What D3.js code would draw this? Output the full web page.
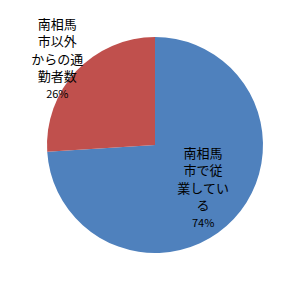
<!DOCTYPE html>
<html>
<head>
<meta charset="utf-8">
<script src="https://cdn.jsdelivr.net/npm/d3@7"></script>
<style>
  body { margin: 0; background: #fff; }
  text { font-family: "Noto Sans CJK JP", sans-serif; fill: #000; }
</style>
</head>
<body>
<div id="chart"></div>
<script>
const width = 301;
const height = 290;

// data
const categories = ["南相馬市で従業している", "南相馬市以外からの通勤者数"];
const labelLines = [["南相馬", "市で従", "業してい", "る"], ["南相馬", "市以外", "からの通", "勤者数"]];
const values = [74, 26];
const colors = ["#4F81BD", "#C0504D"];

const cx = 155, cy = 145, radius = 108;
const labelRadius = [66, 134];
const labelShiftY = [-2, 6];

const svg = d3.select("#chart").append("svg")
    .attr("width", width)
    .attr("height", height);

const pie = d3.pie().sort(null).value(d => d)(values);
const arc = d3.arc().innerRadius(0).outerRadius(radius);

const g = svg.append("g").attr("transform", "translate(" + cx + "," + cy + ")");

g.selectAll("path")
  .data(pie)
  .join("path")
    .attr("d", arc)
    .attr("fill", (d, i) => colors[i]);

const lineH = 17.5;

pie.forEach(function (d, i) {
    const a = (d.startAngle + d.endAngle) / 2;
    const lx = Math.sin(a) * labelRadius[i];
    const ly = -Math.cos(a) * labelRadius[i] + labelShiftY[i];
    const lines = labelLines[i].concat([values[i] + "%"]);
    const top = ly - (lines.length - 1) * lineH / 2;
    const t = g.append("text").attr("text-anchor", "middle");
    lines.forEach(function (s, j) {
        t.append("tspan")
          .attr("x", lx)
          .attr("y", top + j * lineH)
          .attr("dy", "0.36em")
          .attr("font-size", j == lines.length - 1 ? "11px" : "13px")
          .text(s);
    });
});
</script>
</body>
</html>
